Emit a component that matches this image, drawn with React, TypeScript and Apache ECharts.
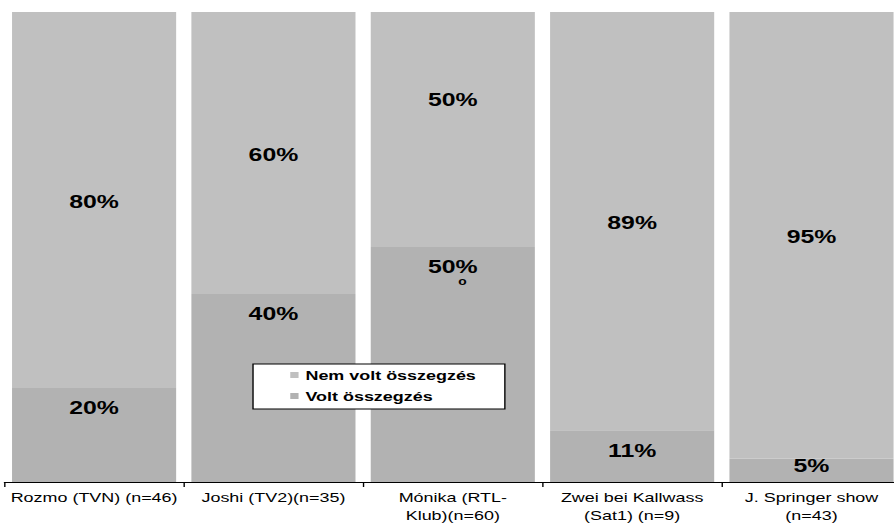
import React, { useEffect, useRef } from 'react';
import * as echarts from 'echarts';

const categories = [
  'Rozmo (TVN) (n=46)',
  'Joshi (TV2)(n=35)',
  'Mónika (RTL-\nKlub)(n=60)',
  'Zwei bei Kallwass\n(Sat1) (n=9)',
  'J. Springer show\n(n=43)',
];
const voltValues = [20, 40, 50, 11, 5];
const nemVoltValues = [80, 60, 50, 89, 95];
const seriesNames = ['Nem volt összegzés', 'Volt összegzés'];

const PAGE_W = 894;
const PAGE_H = 524;
const INNER_W = 648;
const SCALE_X = PAGE_W / INNER_W;
const FONT = '"Liberation Sans", Arial, sans-serif';
const LIGHT = '#C0C0C0';
const DARK = '#B2B2B2';

export default function App() {
  const ref = useRef<HTMLDivElement>(null);
  useEffect(() => {
    if (!ref.current) return;
    const chart = echarts.init(ref.current, null, { renderer: 'svg' });
    const labelBase = {
      show: true,
      color: '#000',
      fontFamily: FONT,
      fontWeight: 'bold' as const,
      fontSize: 18,
      textBorderWidth: 0,
    };
    const voltData = voltValues.map((v) => ({
      value: v,
      label:
        v < 10
          ? { position: 'inside', offset: [0, -4] }
          : { position: 'insideTop', distance: 11 },
    }));
    const nemData = nemVoltValues.map((v, i) => ({
      value: v,
      label: { position: 'inside', offset: i === 2 ? [0, -30] : [0, 2] },
    }));
    chart.setOption({
      animation: false,
      backgroundColor: '#fff',
      grid: {
        left: 3.2,
        width: 650,
        top: 12,
        bottom: 42,
        containLabel: false,
        outerBoundsMode: 'none',
      },
      legend: {
        data: seriesNames,
        orient: 'vertical',
        left: 183.4,
        top: 364,
        icon: 'rect',
        itemWidth: 6,
        itemHeight: 6,
        itemGap: 7,
        padding: [4, 21, 6, 27],
        backgroundColor: '#fff',
        borderColor: '#000',
        borderWidth: 1,
        borderRadius: 0,
        textStyle: {
          fontFamily: FONT,
          fontWeight: 'bold',
          fontSize: 13,
          lineHeight: 14,
          color: '#000',
        },
      },
      xAxis: {
        type: 'category',
        data: categories,
        axisLine: { show: true, lineStyle: { color: '#000', width: 1 } },
        axisTick: { show: true, length: 5, lineStyle: { color: '#000' } },
        axisLabel: {
          interval: 0,
          margin: 6,
          color: '#000',
          fontFamily: FONT,
          fontSize: 13,
          lineHeight: 18,
        },
        splitLine: { show: false },
      },
      yAxis: {
        type: 'value',
        min: 0,
        max: 100,
        show: false,
        splitLine: { show: false },
      },
      series: [
        {
          name: 'Volt összegzés',
          type: 'bar',
          stack: 'total',
          barCategoryGap: '8.5%',
          itemStyle: { color: DARK },
          label: {
            ...labelBase,
            formatter: (p: any) =>
              p.dataIndex === 2 ? `{a|${p.value}%}\n{o|o}` : `{a|${p.value}%}`,
            rich: {
              a: { fontFamily: FONT, fontWeight: 'bold', fontSize: 18, lineHeight: 18, color: '#000' },
              o: { fontFamily: FONT, fontWeight: 'bold', fontSize: 10, lineHeight: 12, color: '#000', padding: [0, 0, 0, 14] },
            },
          },
          data: voltData,
        },
        {
          name: 'Nem volt összegzés',
          type: 'bar',
          stack: 'total',
          barCategoryGap: '8.5%',
          itemStyle: { color: LIGHT },
          label: { ...labelBase, formatter: '{c}%' },
          data: nemData,
        },
      ],
    });
    return () => chart.dispose();
  }, []);
  return (
    <div
      style={{
        position: 'fixed',
        left: 0,
        top: 0,
        width: PAGE_W,
        height: PAGE_H,
        overflow: 'hidden',
        background: '#fff',
      }}
    >
      <div
        ref={ref}
        style={{
          width: INNER_W,
          height: PAGE_H,
          transform: `scaleX(${SCALE_X})`,
          transformOrigin: '0 0',
        }}
      />
    </div>
  );
}
